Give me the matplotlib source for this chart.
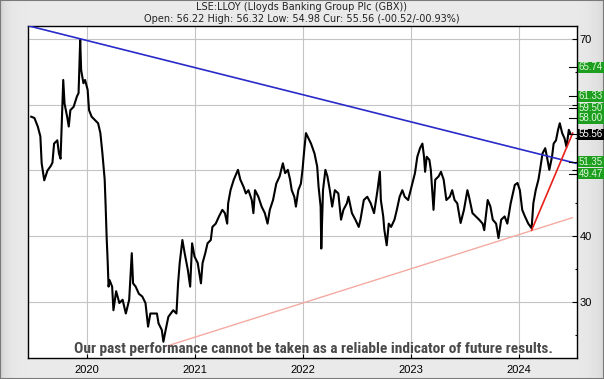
import matplotlib.pyplot as plt
import numpy as np
from matplotlib import font_manager
from matplotlib.patches import Rectangle
from matplotlib.transforms import blended_transform_factory

TITLE = "LSE:LLOY (Lloyds Banking Group Plc (GBX))"
SUBTITLE = "Open: 56.22 High: 56.32 Low: 54.98 Cur: 55.56 (-00.52/-00.93%)"
DISCLAIMER = "Our past performance cannot be taken as a reliable indicator of future results."

# price trace (fractional year, pence)
price_years = [
    2019.482, 2019.512, 2019.543, 2019.567, 2019.579, 2019.603, 2019.633, 2019.664, 2019.679, 2019.694,
    2019.724, 2019.739, 2019.754, 2019.770, 2019.779, 2019.791, 2019.815, 2019.830, 2019.845, 2019.875,
    2019.906, 2019.921, 2019.936, 2019.945, 2019.966, 2019.981, 2020.005, 2020.018, 2020.042, 2020.072,
    2020.102, 2020.123, 2020.142, 2020.163, 2020.172, 2020.181, 2020.190, 2020.199, 2020.208, 2020.232,
    2020.244, 2020.269, 2020.299, 2020.329, 2020.359, 2020.390, 2020.414, 2020.426, 2020.450, 2020.480,
    2020.511, 2020.541, 2020.565, 2020.586, 2020.616, 2020.647, 2020.662, 2020.692, 2020.707, 2020.728,
    2020.753,
    2020.798, 2020.828, 2020.843, 2020.858, 2020.883, 2020.904, 2020.934, 2020.955, 2020.973, 2020.995,
    2021.025, 2021.055, 2021.070, 2021.095, 2021.116, 2021.146, 2021.161, 2021.192, 2021.222, 2021.253,
    2021.277, 2021.298, 2021.307, 2021.329, 2021.359, 2021.398, 2021.420, 2021.450, 2021.471, 2021.495,
    2021.526, 2021.541, 2021.556, 2021.587, 2021.617, 2021.647, 2021.672, 2021.693, 2021.723, 2021.753,
    2021.784, 2021.814, 2021.835, 2021.860, 2021.881, 2021.896, 2021.920, 2021.935, 2021.957, 2021.981,
    2021.996, 2022.012, 2022.028,
    2022.075, 2022.107, 2022.132, 2022.145, 2022.164, 2022.170, 2022.186, 2022.208, 2022.227, 2022.249,
    2022.271, 2022.296, 2022.328, 2022.353, 2022.375, 2022.407, 2022.422, 2022.454, 2022.486, 2022.517,
    2022.533, 2022.564, 2022.596, 2022.628, 2022.659, 2022.691, 2022.713, 2022.722, 2022.744, 2022.754,
    2022.776, 2022.795, 2022.817, 2022.848, 2022.870, 2022.896, 2022.921, 2022.943, 2022.975, 2023.006,
    2023.038, 2023.060, 2023.085, 2023.107, 2023.122, 2023.132, 2023.147, 2023.172, 2023.185, 2023.198,
    2023.210, 2023.226, 2023.257, 2023.279, 2023.304, 2023.329, 2023.361, 2023.383, 2023.405,
    2023.430, 2023.461, 2023.492, 2023.524, 2023.539, 2023.571, 2023.602, 2023.633, 2023.665, 2023.680,
    2023.712, 2023.737, 2023.759, 2023.790, 2023.812, 2023.837, 2023.869, 2023.894, 2023.925, 2023.963,
    2023.988, 2024.010, 2024.032, 2024.057, 2024.088, 2024.119, 2024.135, 2024.157, 2024.182, 2024.197,
    2024.220, 2024.245, 2024.261, 2024.283, 2024.308, 2024.323, 2024.345, 2024.364, 2024.380, 2024.402,
    2024.424, 2024.442, 2024.464, 2024.480,
]
price_close = [
    58.2, 58.0, 56.7, 55.2, 51.1, 48.5, 50.0, 50.7, 51.2, 54.1,
    54.6, 52.6, 51.8, 59.7, 63.8, 60.2, 58.2, 56.7, 59.2, 59.7,
    61.3, 61.8, 69.9, 65.3, 63.3, 63.8, 62.3, 59.2, 58.2, 57.7,
    57.2, 55.7, 52.6, 48.6, 44.5, 39.9, 36.4, 32.3, 33.3, 32.3,
    28.7, 31.6, 29.8, 30.3, 28.2, 30.3, 37.4, 32.8, 32.3, 31.2,
    30.8, 29.8, 26.2, 28.2, 28.2, 28.2, 26.7, 25.7, 23.9, 25.7,
    27.7,
    28.7, 28.2, 32.8, 35.9, 39.4, 37.4, 34.8, 32.3, 38.9, 36.9,
    35.9, 32.8, 35.9, 37.4, 38.9, 39.4, 41.4, 41.9, 43.0, 44.0,
    43.5, 41.9, 45.0, 47.0, 48.6, 50.1, 48.6, 47.5, 46.5, 47.0,
    45.5, 43.5, 47.0, 46.0, 44.5, 43.5, 41.9, 44.0, 45.5, 48.0,
    49.1, 51.1, 49.6, 50.1, 48.6, 47.0, 46.0, 44.5, 47.0, 48.0,
    50.1, 53.1, 55.7,
    54.1, 52.6, 50.6, 47.5, 44.5, 38.1, 47.0, 50.1, 49.1, 47.0,
    44.5, 47.0, 46.5, 42.5, 44.0, 45.0, 46.0, 43.5, 42.5, 41.4,
    42.5, 45.5, 46.0, 45.0, 43.5, 47.0, 49.8, 45.5, 43.0, 41.0,
    38.6, 41.9, 41.4, 42.5, 44.0, 46.0, 47.0, 46.0, 45.5, 47.5,
    49.6, 52.1, 53.4, 54.1, 52.1, 49.8, 52.1, 51.6, 50.1, 47.0,
    44.0, 48.6, 49.1, 49.8, 48.6, 45.5, 46.0, 47.0, 45.5,
    45.0, 42.0, 44.0, 47.0, 46.0, 43.5, 43.0, 42.5, 41.9, 40.9,
    45.5, 44.5, 42.5, 41.9, 39.7, 42.5, 43.0, 41.9, 45.0, 47.8,
    48.1, 47.0, 44.0, 43.0, 41.9, 41.2, 45.0, 47.0, 48.6, 50.1,
    52.6, 53.4, 52.1, 50.1, 52.1, 54.1, 54.6, 56.2, 57.2, 55.7,
    54.9, 53.6, 56.2, 55.56,
]

# trend lines (start, end)
blue_years = [2019.452, 2024.53]
blue_values = [72.07, 51.1]
red_years = [2024.119, 2024.50]
red_values = [40.9, 55.7]
pink_years = [2020.75, 2024.496]
pink_values = [23.3, 42.8]

# price levels marked on the right hand side
level_values = [65.74, 61.33, 59.50, 58.00, 55.56, 51.35, 49.47]
level_labels = ["65.74", "61.33", "59.50", "58.00", "55.56", "51.35", "49.47"]
level_is_current = [False, False, False, False, True, False, False]

year_ticks = [2020, 2021, 2022, 2023, 2024]
year_labels = ["2020", "2021", "2022", "2023", "2024"]


def pick_font(candidates):
    """
    Returns (family, stretch) for the first installed candidate, Liberation Sans if none is.
    """
    for name, stretch in candidates:
        try:
            props = font_manager.FontProperties(family=name, weight="bold", stretch=stretch)
            path = font_manager.findfont(props, fallback_to_default=False)
            if stretch != "normal" and "ondensed" not in path and "arrow" not in path:
                continue
            return name, stretch
        except ValueError:
            continue
    return "Liberation Sans", "normal"


def draw_background(fig):
    """
    Grey bevelled frame behind the chart.
    """
    bg = fig.add_axes([0, 0, 1, 1], zorder=-10)
    cols = np.linspace(0, 1, 604)
    shade = 0.915 - 0.10 * np.exp(-cols * 604 / 6.0) - 0.07 * np.exp(-(1 - cols) * 604 / 10.0)
    grad = np.ones((2, 604)) * shade
    bg.imshow(grad, aspect="auto", cmap="gray", vmin=0, vmax=1, extent=[0, 1, 0, 1])
    bg.add_patch(Rectangle((0, 0), 1, 1, fill=False, ec="#7a7a7a", lw=1.5, transform=bg.transAxes))
    bg.set_axis_off()


def plot_chart():
    fig = plt.figure(figsize=(6.04, 3.79), dpi=100)
    draw_background(fig)

    ax = fig.add_axes([28 / 604, 21 / 379, 549 / 604, 332.3 / 379])
    ax.set_facecolor("white")

    ax.plot(pink_years, pink_values, color="#f4aaa2", lw=1.0, zorder=2)
    ax.plot(price_years, price_close, color="black", lw=1.5, zorder=3)
    ax.plot(blue_years, blue_values, color="#2a2ac8", lw=1.2, zorder=4)
    ax.plot(red_years, red_values, color="#e8201c", lw=1.2, zorder=4)

    ax.set_xlim(2019.4524, 2024.5395)
    ax.set_ylim(21.42, 72.07)

    tick_font = {"family": "Liberation Sans", "size": 8}
    ax.set_xticks(year_ticks)
    ax.set_xticklabels(year_labels, fontdict=tick_font)
    ax.set_yticks([30, 40, 50, 60, 70])
    ax.set_yticklabels(["30", "40", "", "", "70"], fontdict=tick_font)
    ax.set_yticks([25, 35, 45, 55, 65], minor=True)
    ax.yaxis.tick_right()
    ax.tick_params(axis="y", which="major", direction="in", length=3.5, width=0.8, pad=2)
    ax.tick_params(axis="y", which="minor", direction="in", length=1.6, width=0.8)
    ax.tick_params(axis="x", direction="in", length=3, width=0.8, pad=5)
    ax.grid(True, color="#c4c4c4", lw=0.8)
    ax.set_axisbelow(True)
    for spine in ax.spines.values():
        spine.set_linewidth(1.0)

    # coloured level boxes on the right axis
    trans = blended_transform_factory(ax.transAxes, ax.transData)
    for value, label, current in zip(level_values, level_labels, level_is_current):
        face = "black" if current else "#1e9e1e"
        ax.plot([0.985, 1.0], [value, value], color="black", lw=0.8, transform=trans, clip_on=False, zorder=6)
        ax.add_patch(Rectangle((1.0015, value - 0.84), 0.1, 1.68, transform=trans, fc=face, ec="none",
                               clip_on=False, zorder=7))
        ax.text(1.003, value, label, transform=trans, color="white" if current else "#dcf8dc",
                family="Liberation Sans", fontsize=7, va="center", ha="left", clip_on=False, zorder=8)

    fig.text(0.5, 1 - 7.5 / 379, TITLE, ha="center", va="center", fontsize=7, color="#222222")
    fig.text(0.5, 1 - 18.5 / 379, SUBTITLE, ha="center", va="center", fontsize=7, color="#222222")

    # disclaimer, scaled so that it spans the same width as in the original
    family, stretch = pick_font([("Liberation Sans Narrow", "normal"), ("Roboto Condensed", "normal"),
                                 ("Noto Sans Condensed", "normal"), ("Noto Sans", "condensed"),
                                 ("Open Sans", "condensed"), ("DejaVu Sans", "condensed")])
    note = fig.text(313 / 604, 1 - 349 / 379, DISCLAIMER, ha="center", va="center", fontsize=10,
                    fontweight="bold", fontstretch=stretch, color="#4a4a4a", family=family, zorder=20)
    renderer = fig.canvas.get_renderer()
    width = note.get_window_extent(renderer).width
    note.set_fontsize(10 * 480.0 / width)

    fig.savefig("out.png", dpi=100)


if __name__ == "__main__":
    plot_chart()
